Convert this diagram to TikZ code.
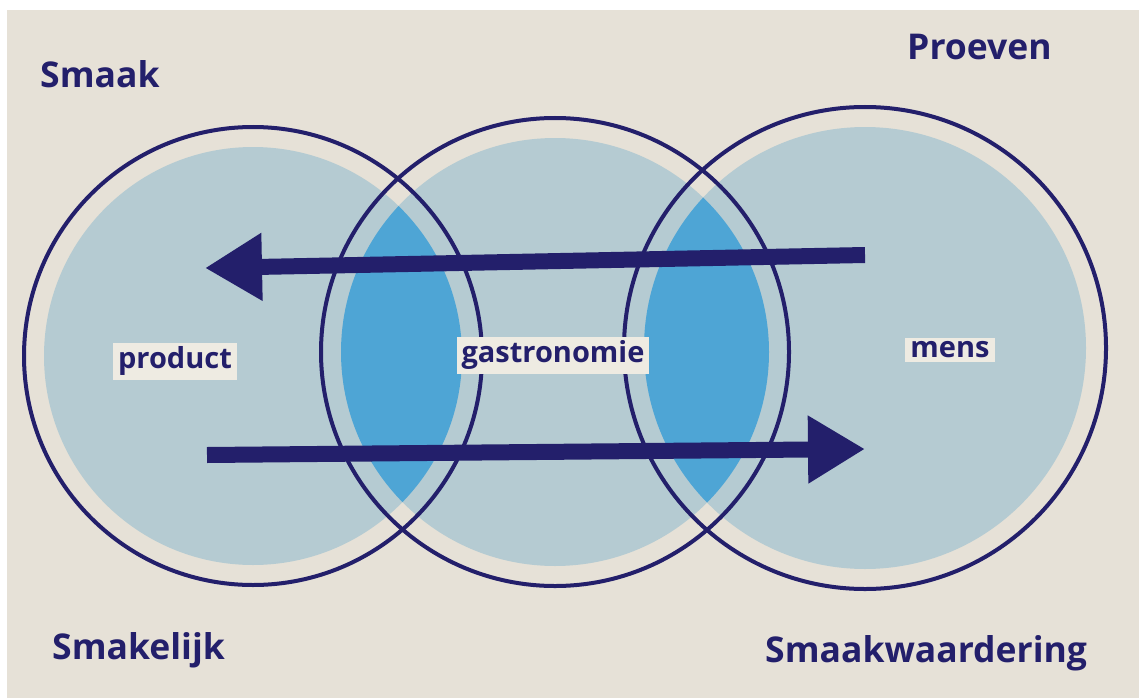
\documentclass[tikz,border=0pt]{standalone}
\usepackage{fontspec}
\setmainfont{Open Sans}
\usetikzlibrary{arrows.meta}
\definecolor{navy}{HTML}{231F6B}
\definecolor{paper}{HTML}{E6E1D7}
\definecolor{lightblue}{HTML}{B5CBD2}
\definecolor{lensblue}{HTML}{4EA5D5}
\definecolor{labelbg}{HTML}{EEEBE2}
\tikzset{
  ring/.style={circle, draw=navy, line width=4pt, inner sep=0pt},
  corner/.style={anchor=base west, inner sep=0pt, text=navy, font=\bfseries\fontsize{35.5}{40}\selectfont},
  tag/.style={fill=labelbg, text=navy, inner xsep=5pt, inner ysep=4pt, font=\bfseries\fontsize{29}{33}\selectfont},
  bigarrow/.style={draw=navy, line width=16pt, -{Triangle[length=57pt,width=64pt]}}
}
\begin{document}
\begin{tikzpicture}[x=1pt,y=-1pt]
\useasboundingbox (0,0) rectangle (1139,698);
\fill[white] (0,0) rectangle (1139,698);
\fill[paper] (7,10) rectangle (1139,698);
% inner fills
\fill[lightblue] (253,356) circle (209);
\fill[lightblue] (555,352) circle (214);
\fill[lightblue] (865,348) circle (221);
% overlapping lenses
\begin{scope}
  \clip (253,356) circle (209);
  \fill[lensblue] (555,352) circle (214);
\end{scope}
\begin{scope}
  \clip (555,352) circle (214);
  \fill[lensblue] (865,348) circle (221);
\end{scope}
% outline rings
\node[ring, minimum size=458pt] (left) at (253,356) {};
\node[ring, minimum size=468pt] (middle) at (555,352) {};
\node[ring, minimum size=482pt] (right) at (865,348) {};
% arrows
\coordinate (atail) at (865,255);
\coordinate (ahead) at (205,268);
\coordinate (btail) at (207,455);
\coordinate (bhead) at (865,449);
\draw[bigarrow] (atail) -- (ahead);
\draw[bigarrow] (btail) -- (bhead);
% labels
\node[tag] (product) at (175,361) {product};
\node[tag] (gastro) at (553,355) {gastronomie};
\node[tag] (mens) at (950,350) {mens};
\node[corner] (smaak) at (40,88) {Smaak};
\node[corner] (proeven) at (907,60) {Proeven};
\node[corner] (smakelijk) at (52,659) {Smakelijk};
\node[corner] (waardering) at (765,662) {Smaakwaardering};
\end{tikzpicture}
\end{document}
